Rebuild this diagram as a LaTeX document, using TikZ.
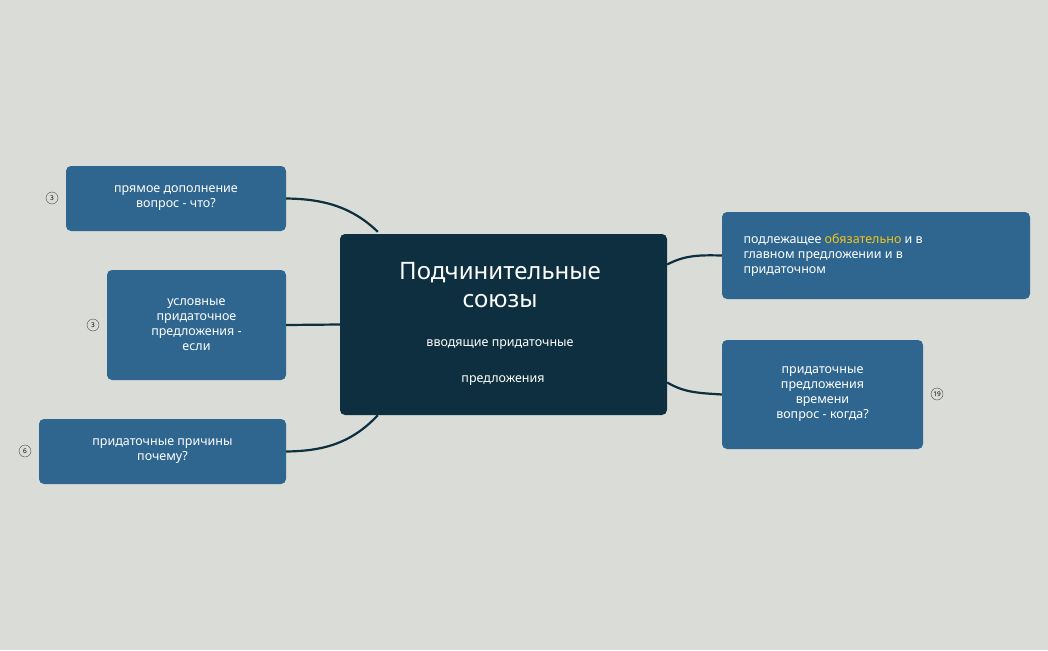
\documentclass[tikz,border=0pt]{standalone}
\usepackage{fontspec}
\setmainfont{Noto Sans}
\definecolor{bg}{HTML}{DADCD7}
\definecolor{dark}{HTML}{0D2F40}
\definecolor{blue}{HTML}{2E6690}
\definecolor{yel}{HTML}{F5C518}
\begin{document}
\begin{tikzpicture}[x=1pt,y=-1pt,
  sub/.style={draw=none,fill=blue,rounded corners=5pt,text=white,font=\fontsize{12.5}{15}\selectfont\bfseries,align=center,inner sep=0pt},
  badge/.style={circle,draw=black!70,fill=bg,font=\fontsize{6.5}{7}\selectfont,inner sep=0pt,minimum size=12pt},
  con/.style={draw=dark,line width=2.2pt}]
\fill[bg] (0,0) rectangle (1048,650);
\node[fill=dark,rounded corners=5pt,minimum width=327pt,minimum height=181pt,inner sep=0pt] (c) at (503.5,324.5) {};
\node[text=white,font=\fontsize{24}{28}\selectfont,align=center] (t) at (500,285) {Подчинительные\\союзы};
\node[text=white,font=\fontsize{12.5}{15}\selectfont\bfseries] (s1) at (500,345) {вводящие придаточные};
\node[text=white,font=\fontsize{12.5}{15}\selectfont\bfseries] (s2) at (503,381) {предложения};
\node[sub,minimum width=220pt,minimum height=65pt] (a) at (176,198.5) {прямое дополнение\\вопрос - что?};
\node[sub,minimum width=179pt,minimum height=110pt] (b) at (196.5,325) {условные\\придаточное\\предложения -\\если};
\node[sub,minimum width=247pt,minimum height=65pt] (d) at (162.5,451.5) {придаточные причины\\почему?};
\node[sub,minimum width=308pt,minimum height=87pt] (e) at (876,255.5) {};
\node[text=white,font=\fontsize{12.5}{15}\selectfont\bfseries,align=left,anchor=west] (et) at (740,255.5) {подлежащее {\color{yel}обязательно} и в\\главном предложении и в\\придаточном};
\node[sub,minimum width=201pt,minimum height=109pt] (f) at (822.5,394.5) {придаточные\\предложения\\времени\\вопрос - когда?};
\node[badge] (ba) at (52,198) {3};
\node[badge] (bb) at (93,325) {3};
\node[badge] (bd) at (25,451) {6};
\node[badge] (bf) at (937,394) {19};
\begin{scope}[on background layer/.try]
\end{scope}
\draw[con] (c.north west)++(38,-2) .. controls (350,205) and (320,199) .. (a.east);
\draw[con] (c.west) -- (b.east);
\draw[con] (c.south west)++(38,0) .. controls (350,445) and (320,451) .. (d.east);
\draw[con] (c.east)++(0,-60) .. controls (685,255) and (700,255) .. (e.west);
\draw[con] (c.east)++(0,58) .. controls (685,393) and (700,393) .. (f.west);
\end{tikzpicture}
\end{document}
